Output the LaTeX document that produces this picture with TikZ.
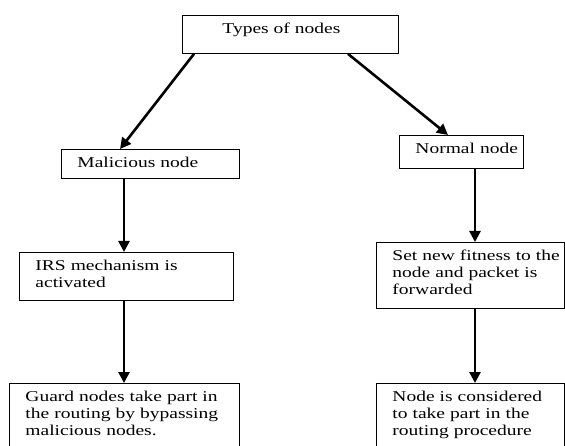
\documentclass[tikz,border=0pt]{standalone}
\usepackage{fontspec}
\setmainfont{Liberation Serif}[FakeStretch=1.3]
\usetikzlibrary{arrows.meta,positioning}
\newcommand{\padbottom}[1]{\rule[-#1]{0pt}{#1}}
\tikzset{
    flowbox/.style={
        draw,
        line width=0.9pt,
        anchor=north west,
        align=left,
        inner xsep=16pt,
        inner ysep=6.2pt,
        font=\fontsize{15}{16.8}\selectfont,
        execute at begin node={\hyphenpenalty=10000\strut}
    },
    flowarrow/.style={
        line width=2.6pt,
        -{Triangle[length=11pt,width=11pt]}
    }
}

\begin{document}
\begin{tikzpicture}[x=1pt,y=-1pt]
    \clip (0,0) rectangle (565,446);
    % boxes
    \node[flowbox, text width=184pt] (types) at (182,15) {\hspace*{24pt}Types~of~nodes\padbottom{13.8pt}};
    \node[flowbox, text width=146pt] (malicious) at (61,149) {Malicious~node};
    \node[flowbox, text width=92pt] (normal) at (399,135) {Normal~node\padbottom{8.8pt}};
    \node[flowbox, text width=182pt] (irs) at (19,252) {IRS~mechanism~is\\activated\padbottom{7pt}};
    \node[flowbox, text width=156pt] (fitness) at (376,242) {Set~new~fitness~to~the\\node~and~packet~is\\forwarded\padbottom{8.2pt}};
    \node[flowbox, text width=198pt] (guard) at (9,383) {Guard~nodes~take~part~in\\the~routing~by~bypassing\\malicious~nodes.\padbottom{30pt}};
    \node[flowbox, text width=156pt] (considered) at (376,383) {Node~is~considered\\to~take~part~in~the\\routing~procedure\padbottom{30pt}};
    % arrows
    \draw[flowarrow] ([xshift=12pt]types.south west) -- ([xshift=59pt]malicious.north west);
    \draw[flowarrow] ([xshift=166pt]types.south west) -- ([xshift=49pt]normal.north west);
    \draw[flowarrow] ([xshift=63pt]malicious.south west) -- ([xshift=105pt]irs.north west);
    \draw[flowarrow] ([xshift=105pt]irs.south west) -- ([xshift=115pt]guard.north west);
    \draw[flowarrow] ([xshift=76pt]normal.south west) -- ([xshift=99pt]fitness.north west);
    \draw[flowarrow] ([xshift=99pt]fitness.south west) -- ([xshift=99pt]considered.north west);
\end{tikzpicture}
\end{document}
